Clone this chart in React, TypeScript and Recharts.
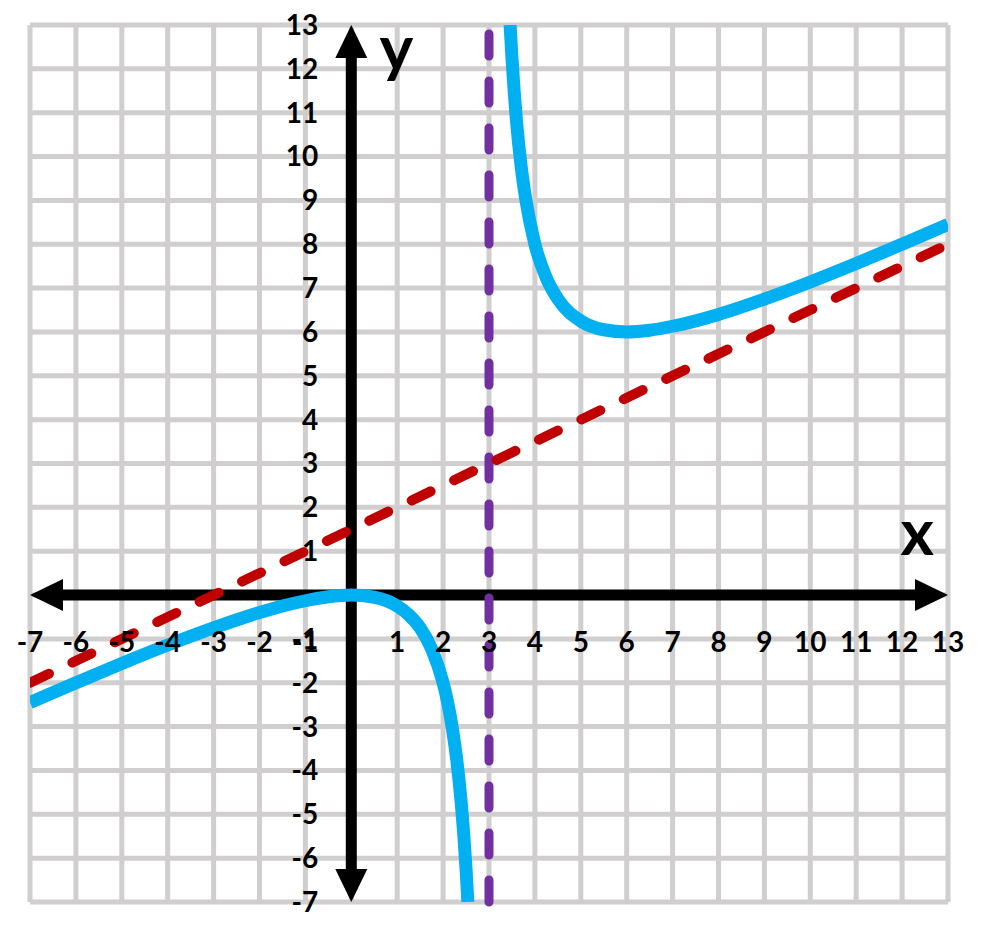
import { LineChart, Line, XAxis, YAxis, CartesianGrid, ReferenceLine, ReferenceDot } from 'recharts';

// grid lines sit on every whole number from -7 to 13 on both axes
const gridTicks = [-7, -6, -5, -4, -3, -2, -1, 0, 1, 2, 3, 4, 5, 6, 7, 8, 9, 10, 11, 12, 13];
const xTickLabels = [-7, -6, -5, -4, -3, -2, -1, 1, 2, 3, 4, 5, 6, 7, 8, 9, 10, 11, 12, 13];
const yTickLabels = [-7, -6, -5, -4, -3, -2, -1, 1, 2, 3, 4, 5, 6, 7, 8, 9, 10, 11, 12, 13];

// blue curve, left of the vertical asymptote
const leftBranch = [
  { x: -7, y: -2.45 },
  { x: -6, y: -2.0 },
  { x: -5, y: -1.56 },
  { x: -4, y: -1.14 },
  { x: -3, y: -0.75 },
  { x: -2, y: -0.4 },
  { x: -1.5, y: -0.25 },
  { x: -1, y: -0.13 },
  { x: -0.5, y: -0.04 },
  { x: 0, y: 0 },
  { x: 0.5, y: -0.05 },
  { x: 1, y: -0.25 },
  { x: 1.25, y: -0.45 },
  { x: 1.5, y: -0.75 },
  { x: 1.75, y: -1.23 },
  { x: 2, y: -2 },
  { x: 2.1, y: -2.45 },
  { x: 2.2, y: -3.03 },
  { x: 2.3, y: -3.78 },
  { x: 2.4, y: -4.8 },
  { x: 2.45, y: -5.46 },
  { x: 2.5, y: -6.25 },
  { x: 2.54, y: -7 },
];

// blue curve, right of the vertical asymptote
const rightBranch = [
  { x: 3.46, y: 13 },
  { x: 3.5, y: 12.25 },
  { x: 3.6, y: 10.8 },
  { x: 3.7, y: 9.78 },
  { x: 3.8, y: 9.03 },
  { x: 4, y: 8 },
  { x: 4.25, y: 7.23 },
  { x: 4.5, y: 6.75 },
  { x: 5, y: 6.25 },
  { x: 5.5, y: 6.05 },
  { x: 6, y: 6 },
  { x: 6.5, y: 6.04 },
  { x: 7, y: 6.13 },
  { x: 8, y: 6.4 },
  { x: 9, y: 6.75 },
  { x: 10, y: 7.14 },
  { x: 11, y: 7.56 },
  { x: 12, y: 8 },
  { x: 13, y: 8.45 },
];

// slant asymptote (red dashes) and vertical asymptote (purple dashes)
const slantAsymptote = [
  { x: -7, y: -2 },
  { x: 13, y: 8 },
];
const verticalAsymptote = 3;

const FONT = 'Lato, "Open Sans", sans-serif';

const ArrowAxis = (props: any) => {
  const { x1, y1, x2, y2 } = props;
  const dx = x2 - x1;
  const dy = y2 - y1;
  const len = Math.hypot(dx, dy);
  const ux = dx / len;
  const uy = dy / len;
  const px = -uy;
  const py = ux;
  const L = 33;
  const W = 16;
  const head = (tx: number, ty: number, dir: number) => {
    const bx = tx - dir * ux * L;
    const by = ty - dir * uy * L;
    return `${tx},${ty} ${bx + px * W},${by + py * W} ${bx - px * W},${by - py * W}`;
  };
  return (
    <g>
      <line
        x1={x1 + ux * (L - 4)}
        y1={y1 + uy * (L - 4)}
        x2={x2 - ux * (L - 4)}
        y2={y2 - uy * (L - 4)}
        stroke="#000"
        strokeWidth={11}
      />
      <polygon points={head(x2, y2, 1)} fill="#000" />
      <polygon points={head(x1, y1, -1)} fill="#000" />
    </g>
  );
};

const tickStyle = { fill: '#000', fontSize: 28, fontWeight: 'bold', fontFamily: FONT };

const RationalFunctionGraph = () => {
  return (
    <LineChart width={984} height={917} margin={{ top: 17, right: 44, bottom: 23, left: 22 }}>
      <CartesianGrid stroke="#d0cece" strokeWidth={5} />
      <XAxis
        type="number"
        dataKey="x"
        domain={[-7, 13]}
        ticks={gridTicks}
        interval={0}
        allowDataOverflow
        hide
      />
      <YAxis type="number" domain={[-7, 13]} ticks={gridTicks} interval={0} allowDataOverflow hide />

      <ReferenceLine y={0} shape={ArrowAxis} />
      <ReferenceLine x={0} shape={ArrowAxis} />

      {xTickLabels.map((t) => (
        <ReferenceDot
          key={'x' + t}
          x={t}
          y={0}
          r={0}
          fillOpacity={0}
          strokeWidth={0}
          label={{ value: String(t), position: 'bottom', offset: 37, ...tickStyle }}
        />
      ))}
      {yTickLabels.map((t) => (
        <ReferenceDot
          key={'y' + t}
          x={0}
          y={t}
          r={0}
          fillOpacity={0}
          strokeWidth={0}
          label={{ value: String(t), position: 'left', offset: 33, ...tickStyle }}
        />
      ))}

      <ReferenceLine
        x={verticalAsymptote}
        stroke="#7030a0"
        strokeWidth={9}
        strokeDasharray="22 25"
        strokeLinecap="round"
      />
      <Line
        data={slantAsymptote}
        dataKey="y"
        type="linear"
        stroke="#c00000"
        strokeWidth={10}
        strokeDasharray="21 26"
        strokeLinecap="round"
        dot={false}
        activeDot={false}
        isAnimationActive={false}
      />
      <Line
        data={leftBranch}
        dataKey="y"
        type="monotone"
        stroke="#00b0f0"
        strokeWidth={13}
        dot={false}
        activeDot={false}
        isAnimationActive={false}
      />
      <Line
        data={rightBranch}
        dataKey="y"
        type="monotone"
        stroke="#00b0f0"
        strokeWidth={13}
        dot={false}
        activeDot={false}
        isAnimationActive={false}
      />

      <ReferenceDot
        x={12.33}
        y={1.44}
        r={0}
        fillOpacity={0}
        strokeWidth={0}
        label={{ value: 'x', position: 'center', fill: '#000', fontSize: 64, fontWeight: 'bold', fontFamily: FONT }}
      />
      <ReferenceDot
        x={0.98}
        y={12.47}
        r={0}
        fillOpacity={0}
        strokeWidth={0}
        label={{ value: 'y', position: 'center', fill: '#000', fontSize: 64, fontWeight: 'bold', fontFamily: FONT }}
      />
    </LineChart>
  );
};

export default RationalFunctionGraph;
